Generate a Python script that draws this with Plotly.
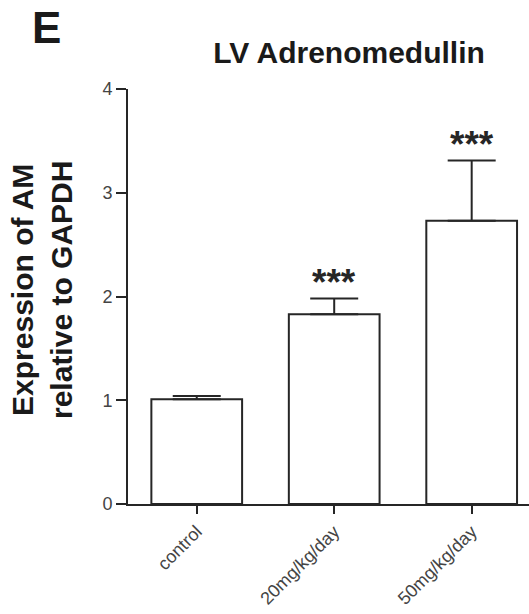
import plotly.graph_objects as go

# Group labels, mean expression and upper SEM
groups = ["control", "20mg/kg/day", "50mg/kg/day"]
means = [1.01, 1.83, 2.73]
sem_upper = [0.03, 0.15, 0.58]
significance = ["", "***", "***"]
y_ticks = [0, 1, 2, 3, 4]

FONT = "Liberation Sans, Arial, sans-serif"
INK = "#262626"

W, H = 529, 614
L, R, T, B = 128, 0, 89, 110
PW, PH = W - L - R, H - T - B


def px_to_paper(px, py):
    """Convert page pixel position to plot-area paper coordinates."""
    return (px - L) / PW, (H - B - py) / PH


fig = go.Figure()
fig.add_trace(go.Bar(
    x=groups,
    y=means,
    marker=dict(color="white", line=dict(color=INK, width=2)),
    width=0.66,
    error_y=dict(
        type="data",
        array=sem_upper,
        arrayminus=[0] * len(sem_upper),
        symmetric=False,
        color=INK,
        thickness=2,
        width=24,
    ),
    showlegend=False,
))

# Significance markers above the error caps
for g, m, e, s in zip(groups, means, sem_upper, significance):
    if s:
        fig.add_annotation(
            x=g, y=m + e, xref="x", yref="y",
            text="<b>" + s + "</b>", showarrow=False,
            yanchor="middle", yshift=16,
            font=dict(family=FONT, size=37, color=INK),
        )

# Panel letter
ex, ey = px_to_paper(46, 28)
fig.add_annotation(
    x=ex, y=ey, xref="paper", yref="paper", text="<b>E</b>",
    showarrow=False, xanchor="center", yanchor="middle",
    font=dict(family=FONT, size=44, color="#1a1a1a"),
)

# Y-axis title as a rotated annotation
tx, ty = px_to_paper(42, 290)
fig.add_annotation(
    x=tx, y=ty, xref="paper", yref="paper",
    text="<b>Expression of AM<br>relative to GAPDH</b>",
    textangle=-90, showarrow=False, xanchor="center", yanchor="middle",
    font=dict(family=FONT, size=30, color="#1a1a1a"),
)

fig.update_layout(
    width=W, height=H,
    margin=dict(l=L, r=R, t=T, b=B, pad=0, autoexpand=False),
    paper_bgcolor="white", plot_bgcolor="white",
    title=dict(
        text="<b>LV Adrenomedullin</b>",
        x=349 / W, xanchor="center", xref="container",
        y=1 - 52 / H, yanchor="middle", yref="container",
        font=dict(family=FONT, size=30, color="#1a1a1a"),
    ),
    xaxis=dict(
        range=[-0.5, 2.417],
        automargin=False,
        showline=True, linecolor=INK, linewidth=2,
        ticks="outside", ticklen=8, tickwidth=2, tickcolor=INK,
        tickangle=-45,
        tickfont=dict(family=FONT, size=18, color="#444444"),
        showgrid=False, zeroline=False,
    ),
    yaxis=dict(
        range=[0, 4],
        automargin=False,
        tickvals=y_ticks,
        showline=True, linecolor=INK, linewidth=2,
        ticks="outside", ticklen=10, tickwidth=2, tickcolor=INK,
        tickfont=dict(family=FONT, size=18, color="#444444"),
        showgrid=False, zeroline=False,
    ),
)

fig.write_html("out.html")
